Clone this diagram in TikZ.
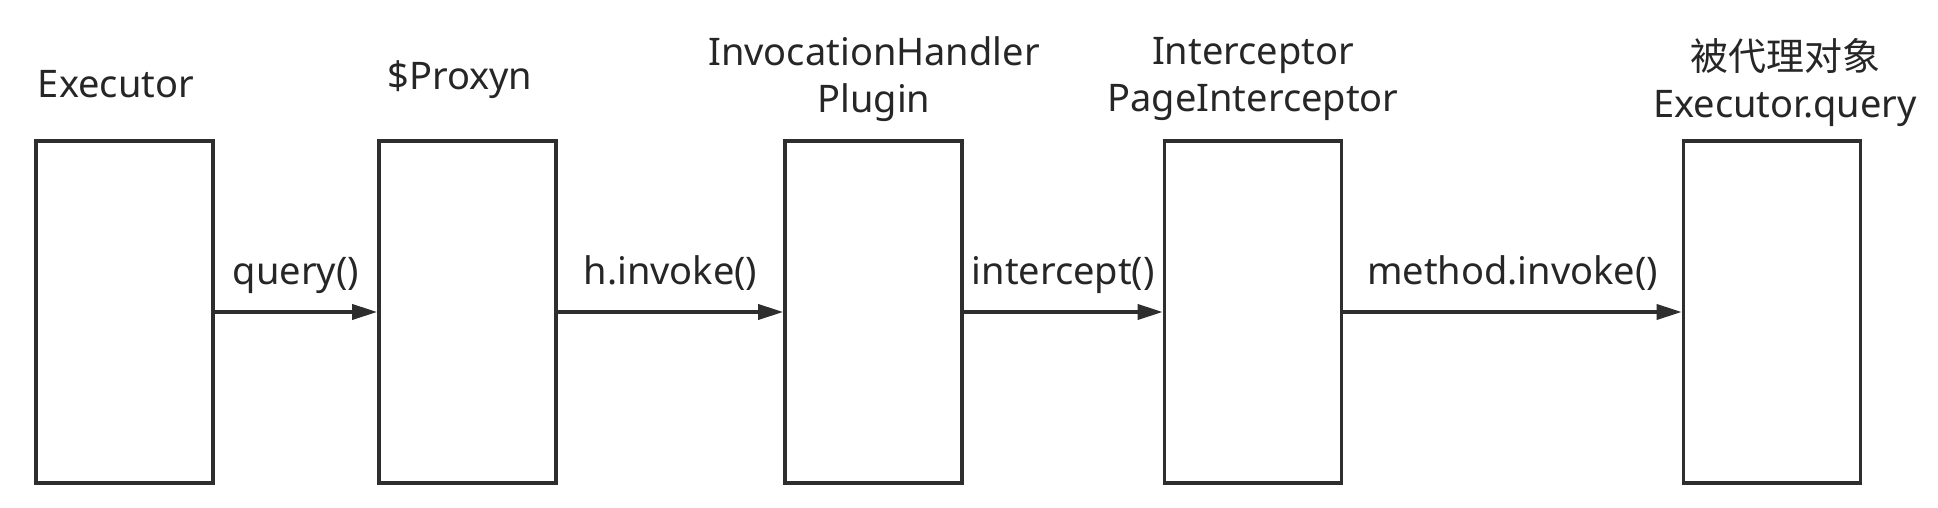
\documentclass[tikz,border=0pt]{standalone}
\usepackage{fontspec}
\setmainfont{Noto Sans}
\newfontfamily\cjk{Noto Sans CJK SC}
\usepackage{tikz}
\usetikzlibrary{shapes,arrows.meta,positioning,calc}
\definecolor{linegray}{HTML}{2E2E2E}
\definecolor{textgray}{HTML}{262626}

\begin{document}
\begin{tikzpicture}[x=0.5pt, y=0.5pt, >={Triangle[length=12.5pt,width=7.5pt]}]
\tikzset{
block/.style    = {draw=linegray, line width=1.8pt, shape=rectangle, fill=white, minimum height=171pt, minimum width=88.5pt, inner sep=0pt},
title/.style    = {font=\fontsize{19}{23.5}\selectfont, text=textgray, align=center, inner sep=0pt, anchor=base},
call/.style     = {font=\fontsize{19}{23}\selectfont, text=textgray, inner sep=0pt, midway, anchor=base, yshift=13.5pt},
}
    \useasboundingbox (0,0) rectangle (1938,508);

    % Main nodes
    \node [block]   (executor)      at (124.5,196)  {};
    \node [block]   (proxy)         at (467.5,196)  {};
    \node [block]   (handler)       at (873.5,196)  {};
    \node [block]   (interceptor)   at (1253,196)   {};
    \node [block]   (target)        at (1772,196)   {};

    % Titles (base = last line)
    \node [title]   (executor-t)    at (116,410)    {Executor};
    \node [title]   (proxy-t)       at (460,418)    {\$Proxyn};
    \node [title]   (handler-t)     at (874,395)    {InvocationHandler\\Plugin};
    \node [title]   (interceptor-t) at (1253,396)   {Interceptor\\PageInterceptor};
    \node [title]   (target-t)      at (1785,390)   {{\cjk 被代理对象}\\Executor.query};

    % Main edges
    \draw [->, draw=linegray, line width=1.8pt]  (executor)    --  (proxy)       node [call] {query()};
    \draw [->, draw=linegray, line width=1.8pt]  (proxy)       --  (handler)     node [call] {h.invoke()};
    \draw [->, draw=linegray, line width=1.8pt]  (handler)     --  (interceptor) node [call] {intercept()};
    \draw [->, draw=linegray, line width=1.8pt]  (interceptor) --  (target)      node [call] {method.invoke()};

\end{tikzpicture}
\end{document}
